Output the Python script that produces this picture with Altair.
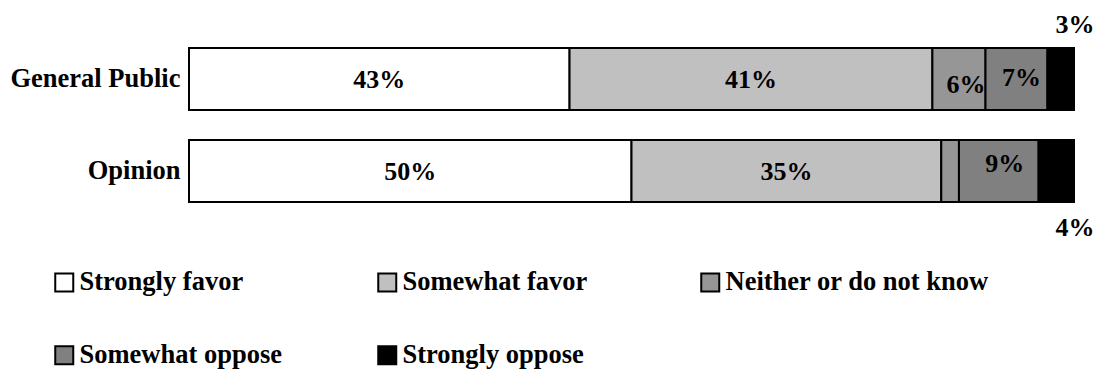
import altair as alt
import pandas as pd

groups = ["General Public", "Opinion"]
categories = ["Strongly favor", "Somewhat favor", "Neither or do not know",
              "Somewhat oppose", "Strongly oppose"]
general_public = [43, 41, 6, 7, 3]
opinion = [50, 35, 2, 9, 4]
colors = ["#FFFFFF", "#C0C0C0", "#969696", "#808080", "#000000"]

rows = []
for g, vals in zip(groups, [general_public, opinion]):
    cum = 0
    for c, v in zip(categories, vals):
        rows.append(dict(group=g, category=c, value=v, start=cum, end=cum + v,
                         mid=cum + v / 2, label=f"{v}%"))
        cum += v
df = pd.DataFrame(rows)

FONT = "Liberation Serif"

y_enc = alt.Y(
    "group:N", sort=groups, title=None,
    scale=alt.Scale(paddingInner=0.326, paddingOuter=0),
    axis=alt.Axis(domain=False, ticks=False, labelPadding=9, labelFontSize=26.5,
                  labelFont=FONT, labelFontWeight="bold", labelColor="black"),
)
x_scale = alt.Scale(domain=[0, 100], nice=False)

base = alt.Chart(df)

bars = base.mark_bar(stroke="black", strokeWidth=2).encode(
    x=alt.X("start:Q", scale=x_scale, axis=None),
    x2="end:Q",
    y=y_enc,
    color=alt.Color(
        "category:N", sort=categories,
        scale=alt.Scale(domain=categories, range=colors),
        legend=alt.Legend(
            title=None, orient="none", legendX=-138, legendY=221, columns=3,
            direction="horizontal", symbolType="square", symbolSize=324,
            symbolStrokeColor="black", symbolStrokeWidth=2, symbolOpacity=1,
            labelFontSize=26.5, labelFont=FONT, labelFontWeight="bold",
            labelColor="black", columnPadding=30, rowPadding=46, labelOffset=2,
            gridAlign="all", padding=0, labelLimit=400,
        ),
    ),
)

def txt(filter_expr, xfield, dx=0, dy=0):
    return base.transform_filter(filter_expr).mark_text(
        font=FONT, fontSize=26, fontWeight="bold", color="black", dx=dx, dy=dy
    ).encode(
        x=alt.X(f"{xfield}:Q", scale=x_scale, axis=None),
        y=alt.Y("group:N", sort=groups),
        text="label:N",
    )

t_main = txt("datum.category == 'Strongly favor' || datum.category == 'Somewhat favor'", "mid", dy=1)
t_neither = txt("datum.group == 'General Public' && datum.category == 'Neither or do not know'", "mid", dx=7, dy=6)
t_opp_gp = txt("datum.group == 'General Public' && datum.category == 'Somewhat oppose'", "mid", dx=5, dy=-1)
t_opp_op = txt("datum.group == 'Opinion' && datum.category == 'Somewhat oppose'", "mid", dx=6, dy=-7)
t_so_gp = txt("datum.group == 'General Public' && datum.category == 'Strongly oppose'", "end", dx=1, dy=-54)
t_so_op = txt("datum.group == 'Opinion' && datum.category == 'Strongly oppose'", "end", dx=1, dy=57)

chart = alt.layer(bars, t_main, t_neither, t_opp_gp, t_opp_op, t_so_gp, t_so_op).properties(
    width=885, height=154,
    autosize=alt.AutoSizeParams(type="none"),
    padding={"left": 181, "top": 40, "right": 22, "bottom": 167},
).configure_view(stroke=None)

chart.save("out.html", embed_options={"renderer": "svg", "actions": False})
